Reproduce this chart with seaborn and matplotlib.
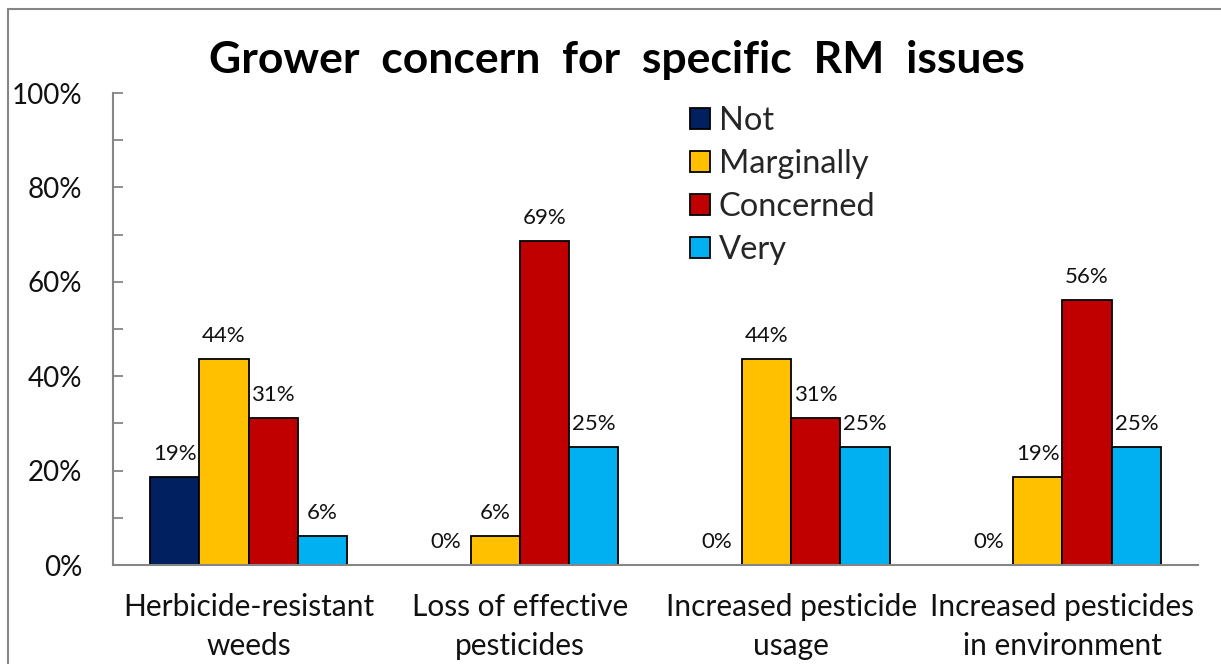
import matplotlib
matplotlib.use("Agg")
import matplotlib.pyplot as plt
import seaborn as sns
import pandas as pd
from matplotlib.patches import Rectangle
from matplotlib.ticker import MultipleLocator, PercentFormatter

categories = ["Herbicide-resistant\nweeds", "Loss of effective\npesticides",
              "Increased pesticide\nusage", "Increased pesticides\nin environment"]
levels = ["Not", "Marginally", "Concerned", "Very"]
not_vals = [18.75, 0, 0, 0]
marginally_vals = [43.75, 6.25, 43.75, 18.75]
concerned_vals = [31.25, 68.75, 31.25, 56.25]
very_vals = [6.25, 25, 25, 25]
colors = ["#002060", "#FFC000", "#C00000", "#00B0F0"]

series = [not_vals, marginally_vals, concerned_vals, very_vals]
rows = []
for lvl, vals in zip(levels, series):
    for c, v in zip(categories, vals):
        rows.append({"Issue": c, "Level": lvl, "Value": v})
df = pd.DataFrame(rows)

sns.set_theme(style="white")
plt.rcParams["font.family"] = ["Lato", "DejaVu Sans"]

fig = plt.figure(figsize=(12.21, 6.64), dpi=100)
ax = fig.add_axes([113/1221, 99/664, (1198-113)/1221, (565-93)/664])

sns.barplot(data=df, x="Issue", y="Value", hue="Level", hue_order=levels,
            order=categories, palette=colors, width=0.727, gap=0,
            edgecolor="black", linewidth=1.3, ax=ax, saturation=1, errorbar=None)

for cont in ax.containers:
    labels = [f"{v:.0f}%" for v in cont.datavalues]
    ax.bar_label(cont, labels=labels, padding=9, fontsize=16, color="#111111")

ax.set_ylim(0, 100)
ax.set_xlim(-0.5, 3.5)
ax.yaxis.set_major_locator(MultipleLocator(20))
ax.yaxis.set_minor_locator(MultipleLocator(10))
ax.yaxis.set_major_formatter(PercentFormatter(decimals=0))
ax.tick_params(axis="y", which="both", direction="in", length=7, width=1.3,
               color="#868686", left=True, labelsize=20, pad=22, labelcolor="#111111")
ax.tick_params(axis="x", length=0, labelsize=21.5, pad=20, labelcolor="#111111")
for lab in ax.get_xticklabels():
    lab.set_linespacing(1.5)
ax.set_xlabel("")
ax.set_ylabel("")
for s in ["top", "right"]:
    ax.spines[s].set_visible(False)
for s in ["left", "bottom"]:
    ax.spines[s].set_color("#868686")
    ax.spines[s].set_linewidth(1.5)

leg = ax.legend(loc="upper left", bbox_to_anchor=(0.52, 1.0), frameon=False,
                fontsize=23.5, handlelength=0.62, handleheight=0.62,
                handletextpad=0.25, labelspacing=0.4, borderaxespad=0)
for h in leg.legend_handles:
    h.set_edgecolor("black")
    h.set_linewidth(1.3)

fig.text(617/1221, 1 - 60/664, "Grower  concern  for  specific  RM  issues",
         ha="center", va="center", fontsize=32, fontweight="bold", color="black")

fig.patches.append(Rectangle((8/1221, -0.5), 2, (664-9)/664 + 0.5,
                             transform=fig.transFigure, fill=False,
                             edgecolor="#868686", linewidth=1.5))

fig.savefig("out.png", dpi=100)
